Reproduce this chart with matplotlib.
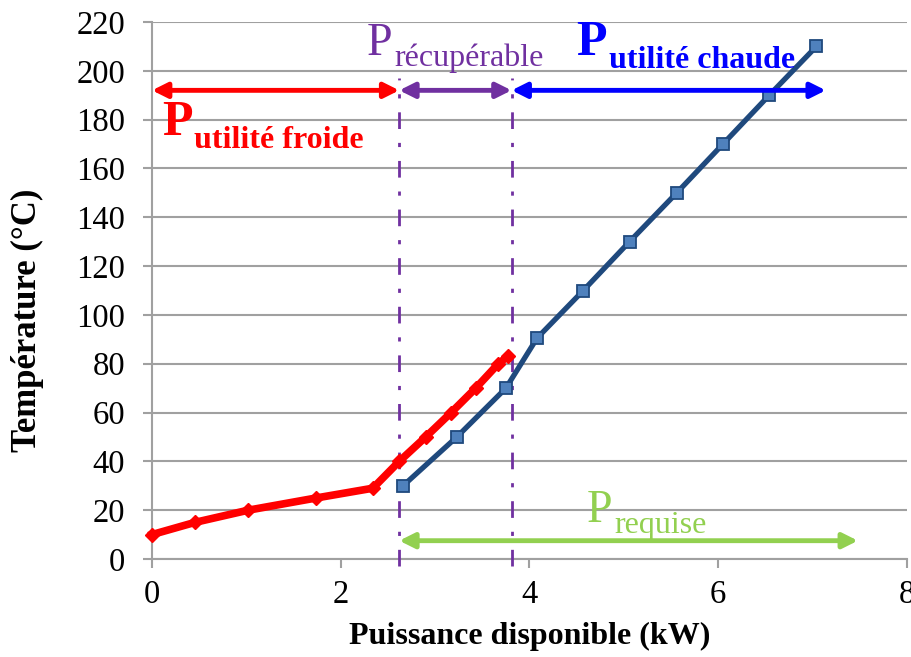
import numpy as np
from matplotlib import pyplot as plt

plt.rcParams['font.family'] = ['Liberation Serif', 'DejaVu Serif']

## Data ##
froid_x = [0, 0.455, 1.02, 1.74, 2.34, 2.62, 2.90, 3.17, 3.43, 3.67, 3.77]
froid_y = [10, 15, 20, 25, 29, 40, 50, 60, 70, 80, 83]

chaud_x = [2.66, 3.23, 3.75, 4.08, 4.57, 5.06, 5.56, 6.05, 6.54, 7.04]
chaud_y = [30, 50, 70, 90.5, 110, 130, 150, 170, 190, 210]

pinch_x = [2.62, 3.81]          # dash-dot limits
arrow_top_y = 192
arrow_low_y = 7.5
x_max_chaude = 7.14
x_max_requise = 7.48

x_ticks = [0, 2, 4, 6, 8]
y_ticks = list(range(0, 221, 20))

grid_col = '#A0A0A0'
red = '#FF0000'
purple = '#7030A0'
blue = '#0000FF'
green = '#92D050'

fig = plt.figure(figsize=(9.12, 6.57), dpi=100)
ax = fig.add_axes([152/912, 1-559/657, 755/912, 537/657])

ax.set_xlim(0, 8)
ax.set_ylim(0, 220)
ax.set_xticks(x_ticks)
ax.set_yticks(y_ticks)
ax.yaxis.grid(True, color=grid_col, linewidth=1.5)
ax.set_axisbelow(True)
for s in ['top', 'right']:
    ax.spines[s].set_visible(False)
for s in ['left', 'bottom']:
    ax.spines[s].set_color(grid_col)
    ax.spines[s].set_linewidth(1.5)
ax.tick_params(axis='both', colors=grid_col, width=1.5, length=6.5,
               labelsize=23.5, labelcolor='black')
ax.tick_params(axis='y', pad=13)
ax.tick_params(axis='x', pad=8)

ax.set_xlabel('Puissance disponible (kW)', fontsize=23, fontweight='bold', va='top')
ax.xaxis.set_label_coords(0.5, -0.117)
ax.set_ylabel('Température (°C)', fontsize=25, fontweight='bold')
ax.yaxis.set_label_coords(-0.143, 0.445)

# curves
ax.plot(chaud_x, chaud_y, color='#1F497D', linewidth=3.8, marker='s',
        markersize=8, markerfacecolor='#4F81BD', markeredgecolor='#1F497D',
        markeredgewidth=1.3, zorder=4, clip_on=False)
ax.plot(froid_x, froid_y, color=red, linewidth=5.5, marker='D',
        markersize=7, markerfacecolor=red, markeredgecolor=red, zorder=5,
        clip_on=False)

# pinch lines
for px in pinch_x:
    ax.plot([px, px], [-3, 197], color=purple, linewidth=2,
            linestyle=(0, (6, 5, 1.5, 5)), clip_on=False, zorder=3)

def double_arrow(x0, x1, y, col):
    ax.annotate('', xy=(x1, y), xytext=(x0, y),
                arrowprops=dict(arrowstyle='<|-|>,head_length=0.9,head_width=0.45',
                                color=col, linewidth=3.5, shrinkA=0, shrinkB=0),
                zorder=6)

double_arrow(0, pinch_x[0], arrow_top_y, red)
double_arrow(pinch_x[0], pinch_x[1], arrow_top_y, purple)
double_arrow(pinch_x[1], x_max_chaude, arrow_top_y, blue)
double_arrow(pinch_x[0], x_max_requise, arrow_low_y, green)

def label_p(x, y, sub, col, bold, psize, ssize, drop):
    w = 'bold' if bold else 'normal'
    t = ax.text(x, y, 'P', color=col, fontsize=psize, fontweight=w,
                ha='left', va='baseline', zorder=7)
    ax.annotate(sub, xy=(1, 0), xycoords=t, xytext=(1, drop),
                textcoords='offset points', color=col, fontsize=ssize,
                fontweight=w, ha='left', va='baseline', zorder=7)

label_p(0.106, 173.8, 'utilité froide', red, True, 36, 23, -1.5)
label_p(2.28, 206.6, 'récupérable', purple, False, 33, 23, -1)
label_p(4.50, 206.6, 'utilité chaude', blue, True, 36, 23, -1.5)
label_p(4.61, 15.2, 'requise', green, False, 33, 23, -1)

fig.savefig('out.png', dpi=100)
